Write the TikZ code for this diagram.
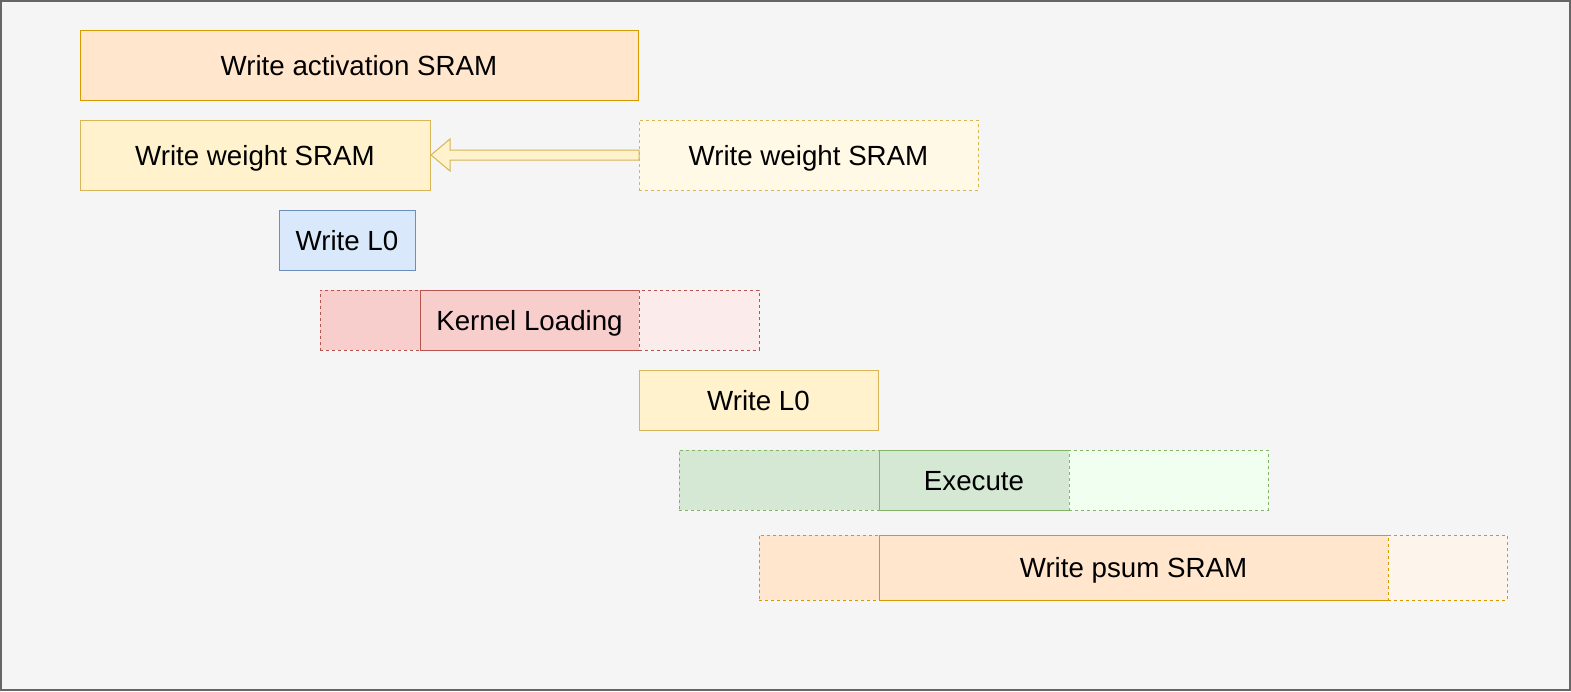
\documentclass[tikz,border=0pt]{standalone}
\usepackage{fontspec}
\setmainfont{Liberation Sans}
\usetikzlibrary{calc}

\definecolor{bgfill}{HTML}{F5F5F5}
\definecolor{bgline}{HTML}{666666}
\definecolor{orangefill}{HTML}{FFE6CC}
\definecolor{orangeline}{HTML}{D79B00}
\definecolor{orangelight}{HTML}{FDF4EC}
\definecolor{yellowfill}{HTML}{FFF2CC}
\definecolor{yellowline}{HTML}{D6B656}
\definecolor{yellowlight}{HTML}{FFF9E6}
\definecolor{bluefill}{HTML}{DAE8FC}
\definecolor{blueline}{HTML}{6C8EBF}
\definecolor{redfill}{HTML}{F8CECC}
\definecolor{redline}{HTML}{B85450}
\definecolor{redlight}{HTML}{FBECEB}
\definecolor{greenfill}{HTML}{D5E8D4}
\definecolor{greenline}{HTML}{82B366}
\definecolor{greenlight}{HTML}{F0FFF0}

\begin{document}
\begin{tikzpicture}[x=1pt, y=-1pt,
    box/.style={draw, line width=1pt, inner sep=0pt, outer sep=0pt, anchor=north west,
        minimum height=60, text height=20pt, text depth=0pt, font=\fontsize{27.7}{33}\selectfont},
    ghost/.style={box, dash pattern=on 3pt off 3pt}]

    % background
    \useasboundingbox (0,0) rectangle (1571,691);
    \draw[bgline, fill=bgfill, line width=2pt] (1,1) rectangle (1570,690);

    % these are the SRAM writes
    \node[box, draw=orangeline, fill=orangefill, minimum width=558, minimum height=70] (act) at (80,30) {Write activation SRAM};
    \node[box, draw=yellowline, fill=yellowfill, minimum width=350, minimum height=70] (wgt) at (80,120) {Write weight SRAM};
    \node[ghost, draw=yellowline, fill=yellowlight, minimum width=339, minimum height=70] (wnext) at (639,120) {Write weight SRAM};

    % first L0 write and kernel loading
    \node[box, draw=blueline, fill=bluefill, minimum width=136] (lzero) at (279,210) {Write L0};
    \node[ghost, draw=redline, fill=redfill, minimum width=100] (kpre) at (320,290) {};
    \node[box, draw=redline, fill=redfill, minimum width=219] (kernel) at (420,290) {Kernel Loading};
    \node[ghost, draw=redline, fill=redlight, minimum width=120] (kpost) at (639,290) {};

    % second L0 write
    \node[box, draw=yellowline, fill=yellowfill, minimum width=239] (lzerob) at (639,370) {Write L0};

    % execute
    \node[ghost, draw=greenline, fill=greenfill, minimum width=200] (epre) at (679,450) {};
    \node[box, draw=greenline, fill=greenfill, minimum width=190] (exec) at (879,450) {Execute};
    \node[ghost, draw=greenline, fill=greenlight, minimum width=199] (epost) at (1069,450) {};

    % psum
    \node[ghost, draw=orangeline, fill=orangefill, minimum width=120, minimum height=65] (ppre) at (759,535) {};
    \node[box, draw=orangeline, fill=orangefill, minimum width=509, minimum height=65] (psum) at (879,535) {Write psum SRAM};
    \node[ghost, draw=orangeline, fill=orangelight, minimum width=119, minimum height=65] (ppost) at (1388,535) {};

    % block arrow
    \draw[yellowline, fill=yellowfill, line width=1pt]
        ($(wnext.west)+(0,-5)$) -- ($(wgt.east)+(20,-5)$) -- ($(wgt.east)+(20,-16)$)
        -- ($(wgt.east)+(1,0)$) -- ($(wgt.east)+(20,16)$) -- ($(wgt.east)+(20,5)$)
        -- ($(wnext.west)+(0,5)$) -- cycle;

\end{tikzpicture}
\end{document}
